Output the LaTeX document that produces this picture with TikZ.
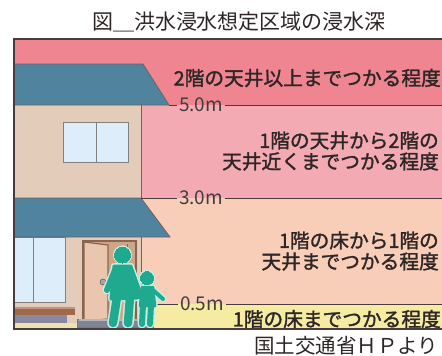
\documentclass[tikz,border=0pt]{standalone}
\usepackage{fontspec}
\setmainfont{Noto Sans CJK JP}
\newfontfamily\bandfont{Noto Sans CJK JP}[FakeBold=1.5]
\usetikzlibrary{positioning}

\definecolor{deep}{HTML}{EE8590}
\definecolor{mid}{HTML}{F4AAB2}
\definecolor{low}{HTML}{F9CEB9}
\definecolor{shallow}{HTML}{F5EBA2}
\definecolor{roof}{HTML}{4F839E}
\definecolor{wall}{HTML}{E3CDBA}
\definecolor{glass}{HTML}{DDEEFA}
\definecolor{doorway}{HTML}{CFA587}
\definecolor{leaf}{HTML}{EBC6AE}
\definecolor{frame}{HTML}{8A6450}
\definecolor{bench}{HTML}{A0694A}
\definecolor{benchshade}{HTML}{8A87A0}
\definecolor{sill}{HTML}{EDE3B0}
\definecolor{stepgray}{HTML}{7F8593}
\definecolor{folk}{HTML}{1FAA90}
\definecolor{halo}{HTML}{C8EDE3}
\definecolor{edge}{HTML}{4A3C3C}
\definecolor{ink}{HTML}{2E2626}

\newcommand\folks[2]{%
  \begin{scope}[draw=#1, fill=#1, line cap=round, line join=round]
    \filldraw[line width=#2pt] (122.5,255) circle[radius=8];
    \filldraw[line width=3pt+#2pt] (114,266) -- (131,266) -- (137,298) -- (111,299) -- cycle;
    \draw[line width=6pt+#2pt] (115,270) -- (107,290);
    \draw[line width=5.5pt+#2pt] (131,270) -- (140,295);
    \draw[line width=8.5pt+#2pt] (117,297) -- (113,323);
    \draw[line width=8.5pt+#2pt] (130,297) -- (128,323);
    \filldraw[line width=#2pt] (147,278) circle[radius=6.5];
    \filldraw[line width=2.5pt+#2pt] (142,287) -- (153,287) -- (155,306) -- (140,306) -- cycle;
    \draw[line width=4pt+#2pt] (143,290) -- (139,297);
    \draw[line width=4pt+#2pt] (153,290) -- (163,299);
    \draw[line width=6pt+#2pt] (143,305) -- (142,324);
    \draw[line width=6pt+#2pt] (151,305) -- (150,324);
  \end{scope}}

\begin{document}
\begin{tikzpicture}[x=1pt,y=-1pt,
    level/.style={draw=edge, line width=0.8pt},
    depth/.style={text=ink!90, font=\fontsize{19}{19}\selectfont, inner sep=1.5pt},
    band/.style={text=ink, font=\bandfont\fontsize{19.7}{21}\selectfont, align=right, anchor=east, inner sep=0pt},
    outline/.style={draw=edge!80, line width=0.8pt}]
  \useasboundingbox (0,0) rectangle (442,356);
  \node[text=ink] (title) at (239,22) {\fontsize{21}{21}\selectfont 図＿洪水浸水想定区域の浸水深};

  % water depth bands
  \fill[deep] (14,39) rectangle (442,105);
  \fill[mid] (14,105) rectangle (442,198);
  \fill[low] (14,198) rectangle (442,304);
  \fill[shallow] (14,304) rectangle (442,329);

  % upper floor
  \fill[wall] (14,105) rectangle (141,198);
  \draw[outline] (141,105) -- (141,198);
  \filldraw[fill=glass, draw=gray, line width=1pt] (63,122) rectangle (128,162);
  \draw[gray, line width=1pt] (96,122) -- (96,162);
  \filldraw[fill=roof, outline] (14,64) -- (143,64) -- (169,105) -- (14,105) -- cycle;

  % ground floor
  \fill[wall] (14,237) rectangle (141,323);
  \draw[outline] (141,237) -- (141,323);
  \filldraw[fill=glass, draw=gray, line width=1pt] (14,237) rectangle (65,302);
  \draw[gray, line width=1pt] (33,237) -- (33,302);
  \filldraw[fill=doorway, draw=frame, line width=1.2pt] (83,241) rectangle (136,321);
  \draw[frame, line width=1pt] (127,244) -- (127,321);
  \filldraw[fill=leaf, draw=frame, line width=1.2pt] (84,242) -- (108,245) -- (108,319) -- (84,321) -- cycle;
  \filldraw[fill=gray!70, draw=edge] (103,282) circle[radius=3];
  \fill[bench] (15,307) rectangle (75,315);
  \fill[bench!70!white] (15,307) rectangle (75,309);
  \fill[benchshade] (15,315) rectangle (67,323);
  \fill[sill] (14,323) rectangle (141,329);
  \filldraw[fill=stepgray, draw=edge!70] (77,319) -- (153,319) -- (153,327) -- (77,327) -- cycle;
  \fill[stepgray!60!white] (79,319) rectangle (151,321);
  \filldraw[fill=roof, outline] (14,198) -- (141,198) -- (170,237) -- (14,237) -- cycle;

  % depth marks
  \coordinate (c50) at (169,105);
  \coordinate (e50) at (442,105);
  \coordinate (c30) at (141,198);
  \coordinate (e30) at (442,198);
  \coordinate (c05) at (141,304);
  \coordinate (e05) at (442,304);
  \node[depth] (m50) at (201,105) {5.0m};
  \node[depth] (m30) at (201,198) {3.0m};
  \node[depth] (m05) at (202,304) {0.5m};
  \draw[level] (c50) -- (m50) -- (e50);
  \draw[level] (c30) -- (m30) -- (e30);
  \draw[level] (c05) -- (m05) -- (e05);

  % people at the door
  \folks{halo}{3}
  \folks{folk}{0}

  \draw[edge, line width=2pt] (442,39) -- (14,39) -- (14,329) -- (442,329);

  \node[band] (t_top) at (441,78) {2階の天井以上までつかる程度};
  \node[band] (t_mid) at (439,151) {1階の天井から2階の\\天井近くまでつかる程度};
  \node[band] (t_low) at (439,251) {1階の床から1階の\\天井までつかる程度};
  \node[band] (t_floor) at (441,319) {1階の床までつかる程度};
  \node[text=ink, anchor=east] (credit) at (442,346) {\fontsize{20.5}{20.5}\selectfont 国土交通省ＨＰより};
\end{tikzpicture}
\end{document}
